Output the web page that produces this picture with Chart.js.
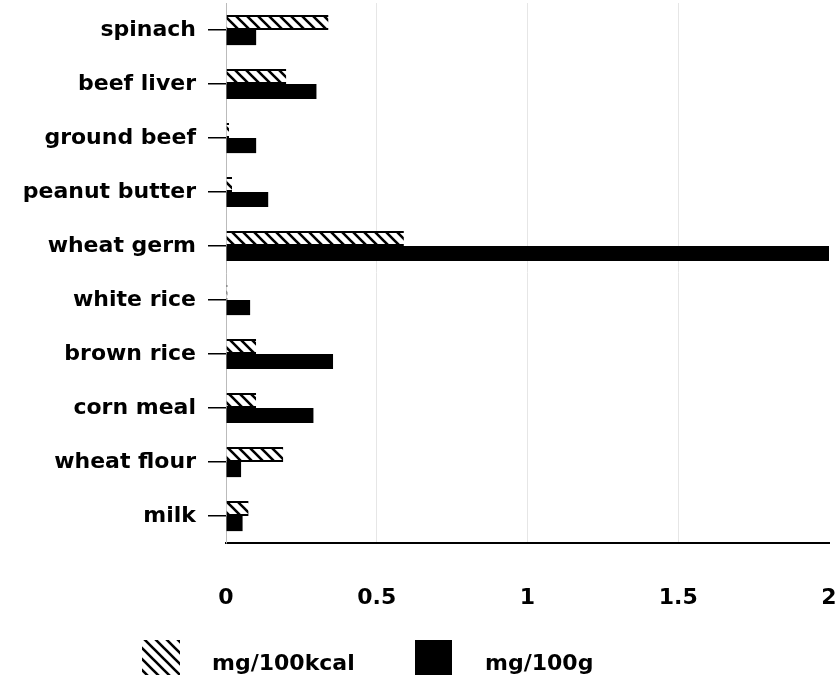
<!DOCTYPE html>
<html>
<head>
<meta charset="utf-8">
<script src="https://cdn.jsdelivr.net/npm/chart.js@4.4.0/dist/chart.umd.min.js"></script>
<style>
  html, body { margin: 0; padding: 0; background: #fff; }
  #wrap { width: 838px; height: 676px; position: relative; }
</style>
</head>
<body>
<div id="wrap"><canvas id="chart"></canvas></div>
<script>
// foods, top to bottom
const foods = ['spinach', 'beef liver', 'ground beef', 'peanut butter', 'wheat germ',
               'white rice', 'brown rice', 'corn meal', 'wheat flour', 'milk'];
const perKcal = [0.34, 0.20, 0.01, 0.02, 0.59, 0.005, 0.10, 0.10, 0.19, 0.075];
const perGram = [0.10, 0.30, 0.10, 0.14, 2.0, 0.08, 0.355, 0.29, 0.05, 0.055];
const seriesNames = ['mg/100kcal', 'mg/100g'];
const xTicks = [0, 0.5, 1, 1.5, 2];

const FONT = '"DejaVu Sans", sans-serif';

// diagonal "\" hatch
function makeHatch() {
    const c = document.createElement('canvas');
    c.width = 11; c.height = 11;
    const g = c.getContext('2d');
    g.fillStyle = '#fff';
    g.fillRect(0, 0, 11, 11);
    g.strokeStyle = '#000';
    g.lineWidth = 2.6;
    g.beginPath();
    g.moveTo(-2, -2); g.lineTo(13, 13);
    g.moveTo(-13, -2); g.lineTo(2, 13);
    g.moveTo(9, -2); g.lineTo(24, 13);
    g.stroke();
    return g.createPattern(c, 'repeat');
}
const hatch = makeHatch();

// no extra room for half-labels at the ends
function noPad(scale) {
    scale.paddingTop = 0;
    scale.paddingBottom = 0;
    scale.paddingLeft = 0;
    scale.paddingRight = 0;
}

// legend drawn under the axis, spaced like the original
const bottomLegend = {
    id: 'bottomLegend',
    afterDraw(chart) {
        const ctx = chart.ctx;
        const items = [
            { box: 142, w: 38, text: 212 },
            { box: 415, w: 37, text: 485 }
        ];
        ctx.save();
        ctx.font = 'bold 22px ' + FONT;
        ctx.textBaseline = 'alphabetic';
        chart.data.datasets.forEach((ds, i) => {
            const it = items[i];
            ctx.fillStyle = i === 0 ? hatch : '#000';
            ctx.fillRect(it.box, 640, it.w, 35);
            ctx.fillStyle = '#000';
            ctx.fillText(ds.label, it.text, 670);
        });
        ctx.restore();
    }
};

new Chart(document.getElementById('chart'), {
    type: 'bar',
    data: {
        labels: foods,
        datasets: [
            {
                label: seriesNames[0],
                data: perKcal,
                backgroundColor: hatch,
                borderColor: '#000',
                borderWidth: { top: 2, bottom: 2, right: 0, left: 0 },
                borderSkipped: false
            },
            {
                label: seriesNames[1],
                data: perGram,
                backgroundColor: '#000',
                borderWidth: 0
            }
        ]
    },
    options: {
        indexAxis: 'y',
        responsive: true,
        maintainAspectRatio: false,
        animation: false,
        categoryPercentage: 0.56,
        barPercentage: 1,
        layout: { padding: { top: 3, right: 9, bottom: 63, left: 0 } },
        plugins: {
            legend: { display: false },
            tooltip: { enabled: false }
        },
        scales: {
            x: {
                min: 0,
                max: 2,
                afterBuildTicks: scale => { scale.ticks = xTicks.map(v => ({ value: v })); },
                afterFit: scale => { scale.height = 70; noPad(scale); },
                grid: {
                    drawTicks: false,
                    color: ctx => ctx.tick && ctx.tick.value > 0 && ctx.tick.value < 2 ? '#e6e6e6' : 'rgba(0,0,0,0)',
                    lineWidth: 1,
                    tickBorderDash: [1, 14]
                },
                border: { color: '#000', width: 2 },
                ticks: {
                    color: '#000',
                    padding: 42,
                    maxRotation: 0,
                    callback: v => String(v),
                    font: { family: FONT, size: 22, weight: 'bold' }
                }
            },
            y: {
                afterFit: scale => { scale.width = 226; noPad(scale); },
                grid: {
                    offset: false,
                    drawOnChartArea: false,
                    drawTicks: true,
                    tickLength: 18,
                    color: '#000',
                    lineWidth: 1.5
                },
                border: { color: '#bbb', width: 1, dash: [2, 10] },
                ticks: {
                    color: '#000',
                    padding: 12,
                    font: { family: FONT, size: 22, weight: 'bold' }
                }
            }
        }
    },
    plugins: [bottomLegend]
});
</script>
</body>
</html>
